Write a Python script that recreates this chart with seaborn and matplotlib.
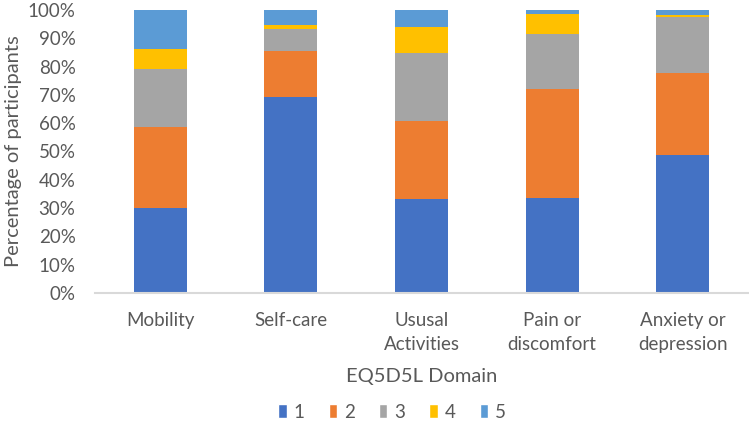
import numpy as np
import seaborn as sns
import pandas as pd
import matplotlib.pyplot as plt
from matplotlib.patches import Patch
from matplotlib.ticker import PercentFormatter

# EQ5D5L domain responses, % of participants per level
domains = ['Mobility', 'Self-care', 'Ususal\nActivities', 'Pain or\ndiscomfort', 'Anxiety or\ndepression']
levels = ['1', '2', '3', '4', '5']
level1 = [30.0, 69.1, 33.2, 33.6, 48.9]
level2 = [28.8, 16.4, 27.6, 38.6, 28.8]
level3 = [20.4, 7.9, 24.0, 19.4, 19.8]
level4 = [7.1, 1.3, 9.1, 7.1, 0.7]
level5 = [13.7, 5.3, 6.1, 1.3, 1.8]
colors = ['#4472C4', '#ED7D31', '#A5A5A5', '#FFC000', '#5B9BD5']

df = pd.DataFrame({'domain': domains, '1': level1, '2': level2, '3': level3,
                   '4': level4, '5': level5})

sns.set_style('white')
plt.rcParams['font.family'] = ['Lato', 'DejaVu Sans']
txt = '#595959'

fig = plt.figure(figsize=(7.49, 4.25), dpi=100)
ax = fig.add_axes([95 / 749, 1 - 293 / 425, 653 / 749, 283 / 425])

bottom = np.zeros(len(domains))
for lvl, c in zip(levels, colors):
    sns.barplot(data=df, x='domain', y=lvl, color=c, bottom=bottom, width=0.405,
                saturation=1, ax=ax, linewidth=0)
    bottom += df[lvl].values

ax.set_xlim(-0.5, 4.5)
ax.set_ylim(0, 100)
ax.set_yticks(np.arange(0, 101, 10))
ax.yaxis.set_major_formatter(PercentFormatter(decimals=0))
for s in ['top', 'right', 'left']:
    ax.spines[s].set_visible(False)
ax.spines['bottom'].set_color('#D9D9D9')
ax.spines['bottom'].set_linewidth(1.5)
ax.tick_params(axis='y', length=0, pad=14, labelsize=13.5, labelcolor=txt)
ax.tick_params(axis='x', length=0, pad=14, labelsize=13.5, labelcolor=txt)
for lab in ax.get_xticklabels():
    lab.set_linespacing(1.45)
ax.set_xlabel('EQ5D5L Domain', fontsize=14.5, color=txt, labelpad=11)
ax.set_ylabel('Percentage of participants', fontsize=14.5, color=txt, labelpad=4)

handles = [Patch(facecolor=c, label=l) for l, c in zip(levels, colors)]
fig.legend(handles=handles, loc='center', bbox_to_anchor=(392 / 749, 1 - 412 / 425),
           ncol=5, frameon=False, fontsize=13.5, labelcolor=txt,
           handlelength=0.45, handleheight=0.7, handletextpad=0.35, columnspacing=1.3)

plt.savefig('out.png', dpi=100)
